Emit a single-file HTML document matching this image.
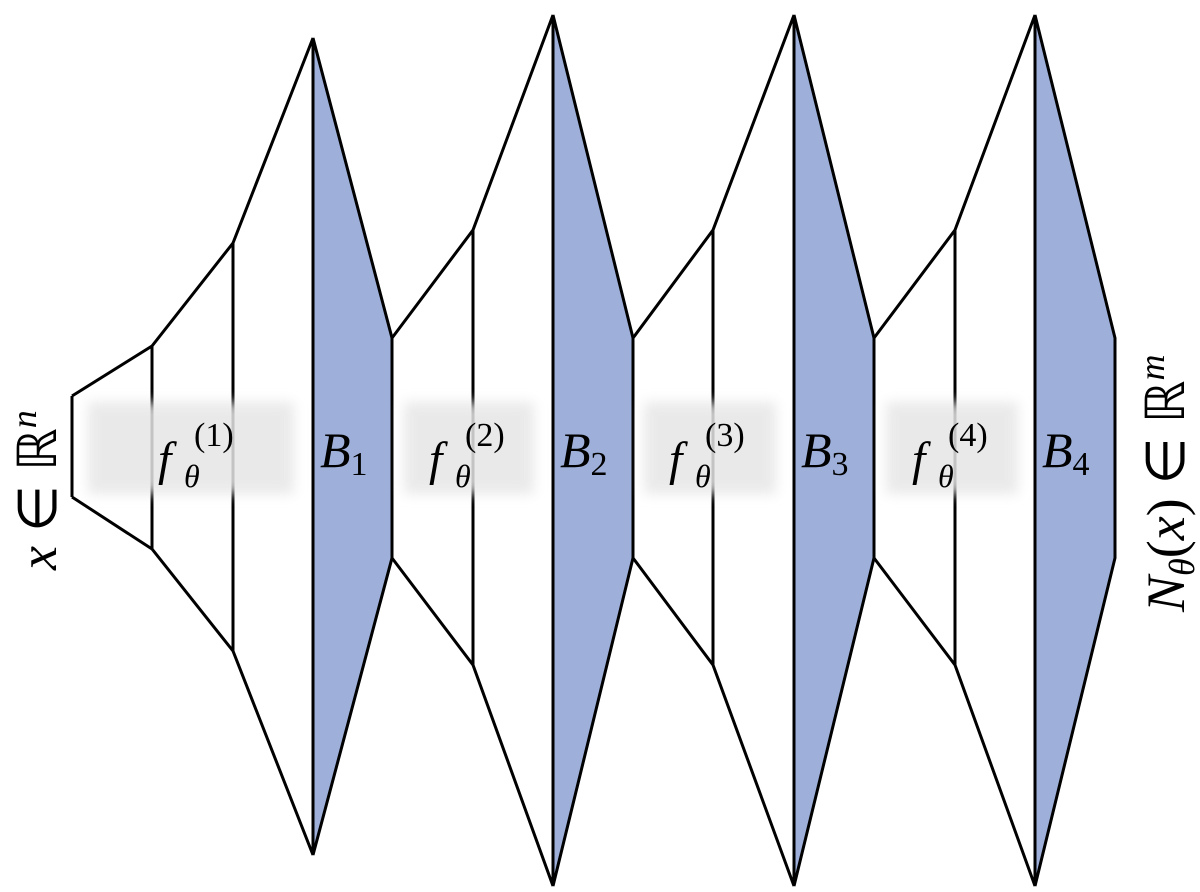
<!DOCTYPE html>
<html><head><meta charset="utf-8"><style>
html,body{margin:0;padding:0;background:#fff;}
svg{display:block;}
text{font-family:"Liberation Serif",serif;fill:#000;}
</style></head><body>
<svg width="1200" height="892" viewBox="0 0 1200 892" xmlns="http://www.w3.org/2000/svg">
<defs><filter id="bl" x="-20%" y="-40%" width="140%" height="180%"><feGaussianBlur stdDeviation="6"/></filter></defs>
<g stroke="#000" stroke-width="3" fill="none" stroke-linejoin="miter">
<polygon points="313,38 392,338 392,558 313,855" fill="#9eb0da"/>
<polygon points="553,15 633,338 633,558 553,886" fill="#9eb0da"/>
<polygon points="794,15 874,338 874,558 794,886" fill="#9eb0da"/>
<polygon points="1035,15 1115,338 1115,558 1035,886" fill="#9eb0da"/>
<polyline points="72,396 72,497"/>
<polyline points="72,396 152,346 233,243 313,38"/>
<polyline points="72,497 152,549 233,651 313,855"/>
<line x1="152" y1="346" x2="152" y2="549"/>
<line x1="233" y1="243" x2="233" y2="651"/>
<line x1="313" y1="38" x2="313" y2="855"/>
<polyline points="392,338 473,230 553,15"/>
<polyline points="392,558 473,665 553,886"/>
<line x1="473" y1="230" x2="473" y2="665"/>
<line x1="553" y1="15" x2="553" y2="886"/>
<polyline points="633,338 713,230 794,15"/>
<polyline points="633,558 713,665 794,886"/>
<line x1="713" y1="230" x2="713" y2="665"/>
<line x1="794" y1="15" x2="794" y2="886"/>
<polyline points="874,338 955,230 1035,15"/>
<polyline points="874,558 955,665 1035,886"/>
<line x1="955" y1="230" x2="955" y2="665"/>
<line x1="1035" y1="15" x2="1035" y2="886"/>
</g>
<g fill="#e6e6e6" opacity="0.85" filter="url(#bl)">
<rect x="88" y="402" width="206" height="92"/>
<rect x="404" y="402" width="130" height="92"/>
<rect x="644" y="402" width="132" height="92"/>
<rect x="886" y="402" width="132" height="92"/>
</g>
<g font-style="italic">
<text x="158" y="475" font-size="48">f</text>
<text x="184" y="487" font-size="32">θ</text>
<text x="194" y="446" font-size="34" font-style="normal">(1)</text>
<text x="429" y="475" font-size="48">f</text>
<text x="455" y="487" font-size="32">θ</text>
<text x="465" y="446" font-size="34" font-style="normal">(2)</text>
<text x="669" y="475" font-size="48">f</text>
<text x="695" y="487" font-size="32">θ</text>
<text x="705" y="446" font-size="34" font-style="normal">(3)</text>
<text x="912" y="475" font-size="48">f</text>
<text x="938" y="487" font-size="32">θ</text>
<text x="948" y="446" font-size="34" font-style="normal">(4)</text>
<text x="320" y="467" font-size="50">B<tspan font-style="normal" font-size="34" dy="8">1</tspan></text>
<text x="560" y="467" font-size="50">B<tspan font-style="normal" font-size="34" dy="8">2</tspan></text>
<text x="801" y="467" font-size="50">B<tspan font-style="normal" font-size="34" dy="8">3</tspan></text>
<text x="1042" y="467" font-size="50">B<tspan font-style="normal" font-size="34" dy="8">4</tspan></text>
</g>
<text transform="translate(56,570) rotate(-90)" font-size="54"><tspan font-style="italic">x</tspan><tspan dx="14">∈</tspan><tspan dx="14">ℝ</tspan><tspan font-size="36" dy="-20" font-style="italic">n</tspan></text>
<text transform="translate(1184,612) rotate(-90)" font-size="54"><tspan font-style="italic">N</tspan><tspan font-size="36" dy="10" font-style="italic">θ</tspan><tspan dy="-10">(</tspan><tspan font-style="italic">x</tspan>)<tspan dx="14">∈</tspan><tspan dx="14">ℝ</tspan><tspan font-size="36" dy="-20" font-style="italic">m</tspan></text>
</svg>
</body></html>
